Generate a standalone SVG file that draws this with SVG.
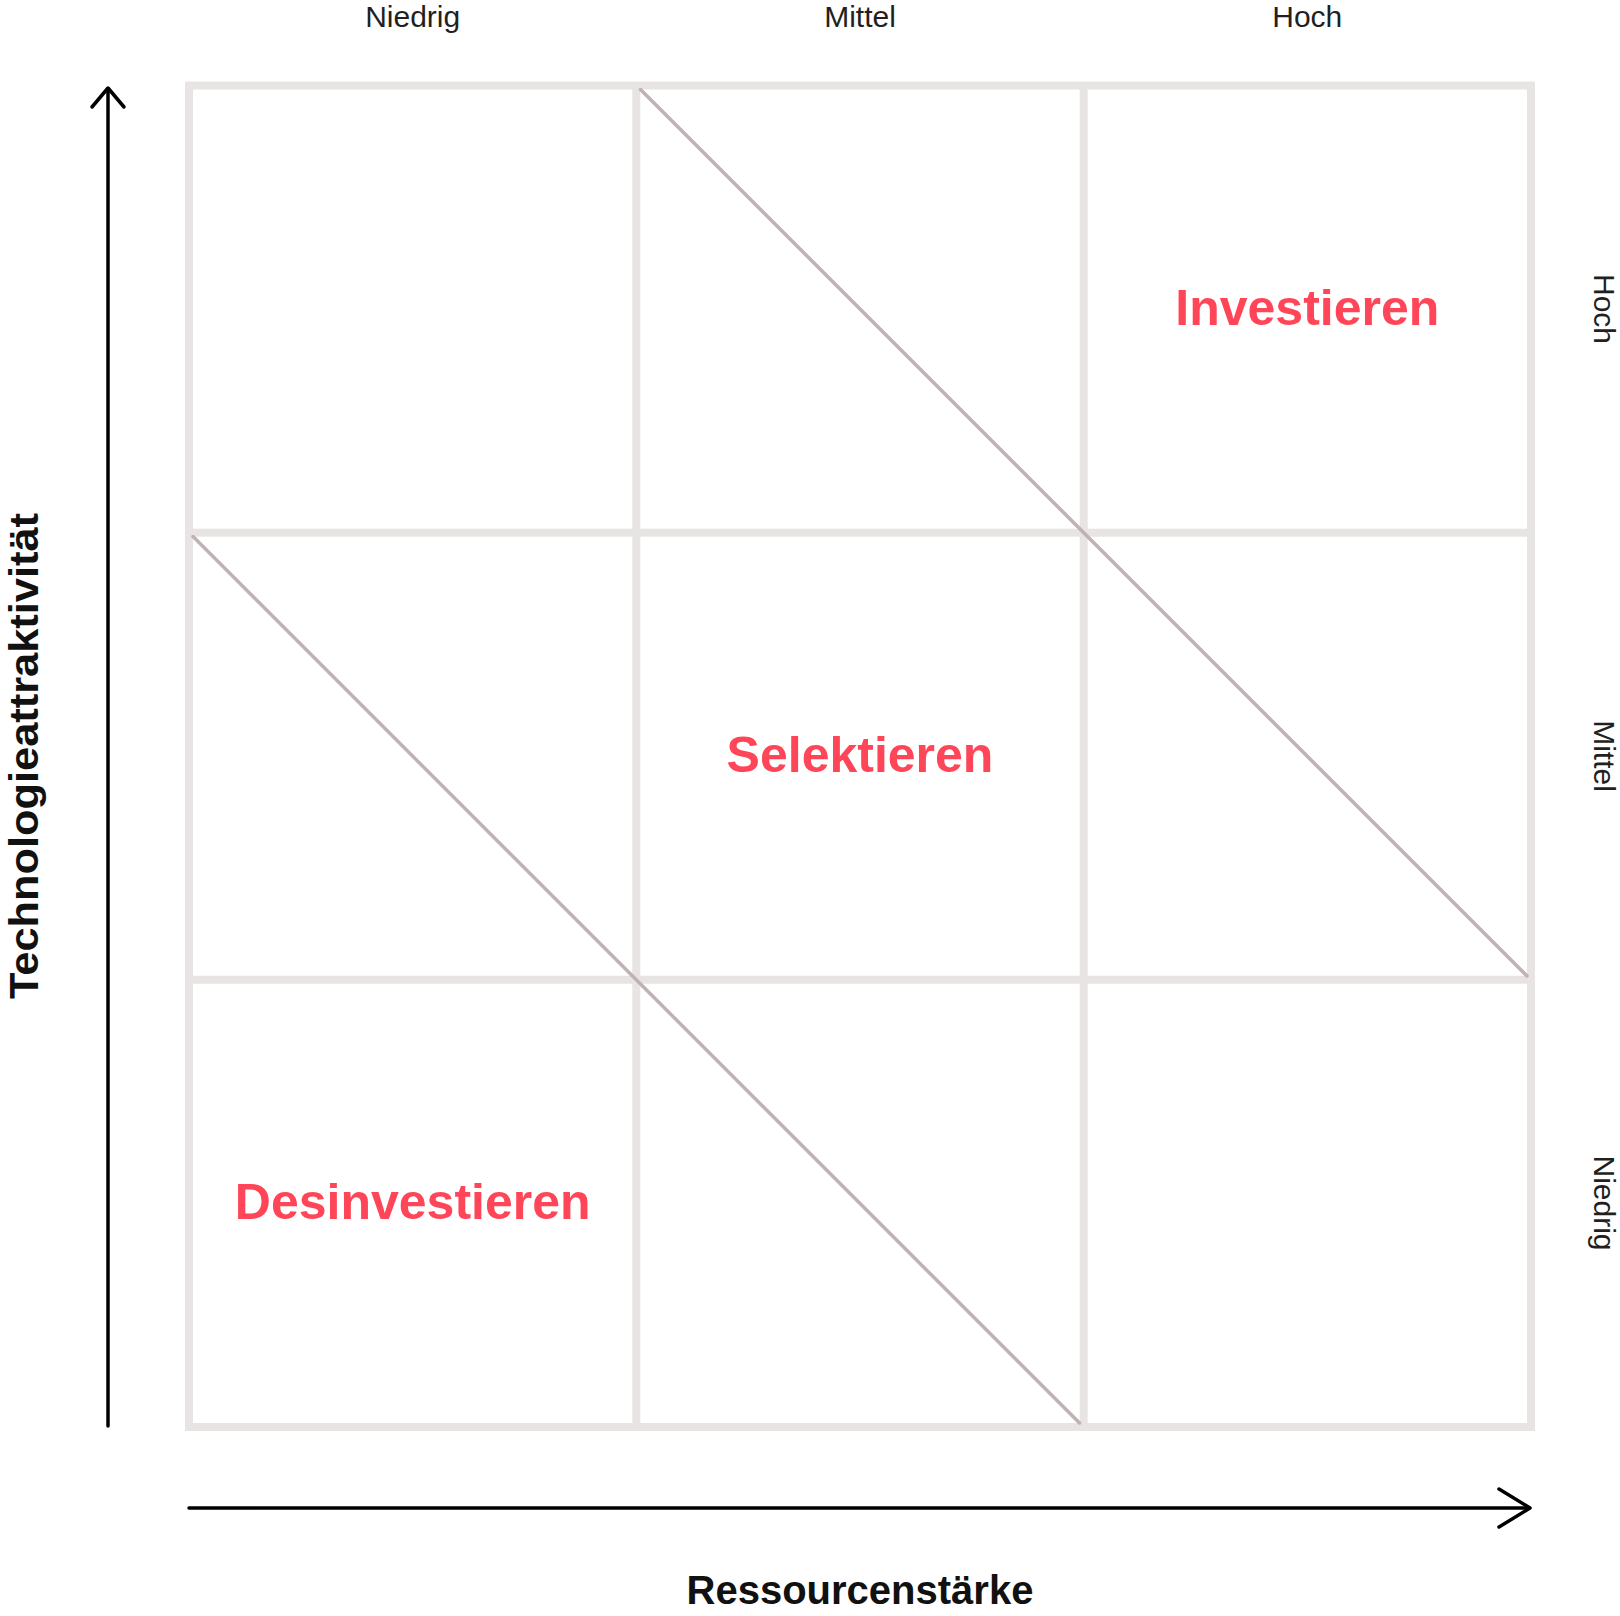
<svg xmlns="http://www.w3.org/2000/svg" width="1620" height="1616" viewBox="0 0 1620 1616">
  <style>
    .grid { stroke: #e8e4e4; stroke-width: 8; fill: none; }
    .diag { stroke: #c0b1b4; stroke-width: 3.5; fill: none; stroke-linecap: round; }
    .axis { stroke: #000000; stroke-width: 3.5; fill: none; stroke-linecap: round; stroke-linejoin: round; }
    .tick { font-family: "Liberation Sans", Arial, sans-serif; font-size: 30px; fill: #231f20; text-anchor: middle; }
    .axlabel { font-family: "Liberation Sans", Arial, sans-serif; font-size: 40px; font-weight: bold; fill: #111111; text-anchor: middle; }
    .zone { font-family: "Liberation Sans", Arial, sans-serif; font-size: 50px; font-weight: bold; fill: #ff4558; text-anchor: middle; }
  </style>
  <rect width="1620" height="1616" fill="#ffffff"/>

  <g id="grid">
    <rect class="grid" x="189" y="85.5" width="1342" height="1341.5"/>
    <line class="grid" x1="636.3" y1="85.5" x2="636.3" y2="1427"/>
    <line class="grid" x1="1083.7" y1="85.5" x2="1083.7" y2="1427"/>
    <line class="grid" x1="189" y1="532.7" x2="1531" y2="532.7"/>
    <line class="grid" x1="189" y1="979.8" x2="1531" y2="979.8"/>
  </g>

  <g id="connectors">
    <line class="diag" x1="640.5" y1="89.5" x2="1527" y2="976"/>
    <line class="diag" x1="193" y1="536.5" x2="1079.5" y2="1423"/>
    <g id="y-axis-arrow">
      <line class="axis" x1="108" y1="1426" x2="108" y2="89"/>
      <polyline class="axis" points="92,107 108,88 124,107"/>
    </g>
    <g id="x-axis-arrow">
      <line class="axis" x1="189" y1="1508" x2="1529" y2="1508"/>
      <polyline class="axis" points="1499,1489 1530,1508 1499,1527"/>
    </g>
  </g>

  <g id="col-labels">
    <text class="tick" x="412.7" y="27">Niedrig</text>
    <text class="tick" x="860" y="27">Mittel</text>
    <text class="tick" x="1307.3" y="27">Hoch</text>
  </g>

  <g id="row-labels">
    <text class="tick" transform="translate(1594,309) rotate(90)">Hoch</text>
    <text class="tick" transform="translate(1594,756) rotate(90)">Mittel</text>
    <text class="tick" transform="translate(1594,1203) rotate(90)">Niedrig</text>
  </g>

  <g id="node-investieren">
    <text class="zone" x="1307.3" y="325">Investieren</text>
  </g>
  <g id="node-selektieren">
    <text class="zone" x="860" y="772">Selektieren</text>
  </g>
  <g id="node-desinvestieren">
    <text class="zone" x="412.7" y="1219">Desinvestieren</text>
  </g>

  <g id="axis-labels">
    <text class="axlabel" x="860" y="1604">Ressourcenstärke</text>
    <text class="axlabel" transform="translate(38,756) rotate(-90)" font-size="42" textLength="486" lengthAdjust="spacingAndGlyphs">Technologieattraktivität</text>
  </g>
</svg>
